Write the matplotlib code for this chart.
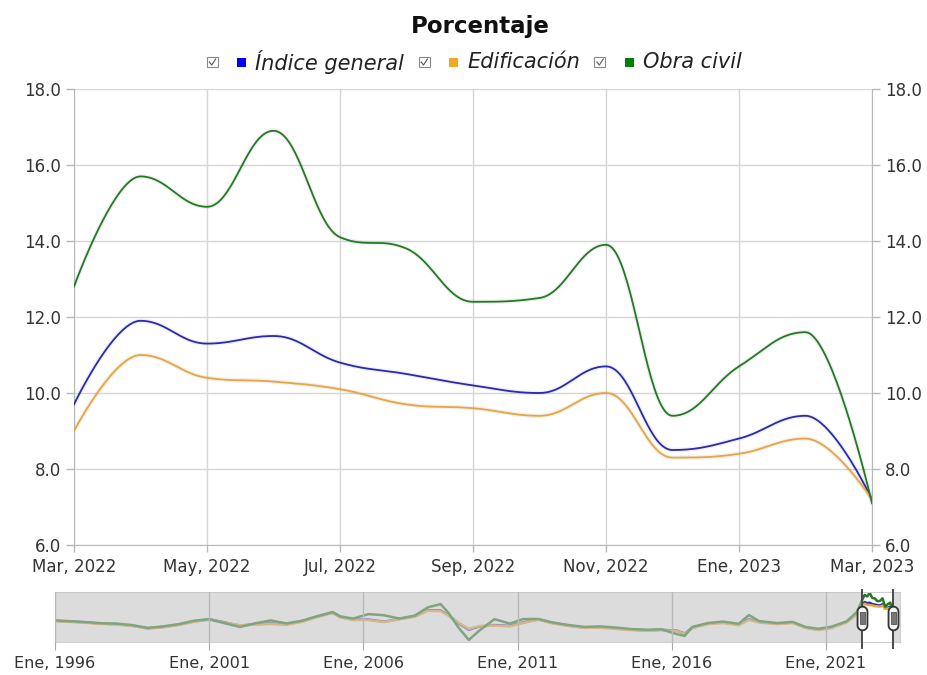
import matplotlib
matplotlib.use("Agg")
import matplotlib.pyplot as plt
import numpy as np
from matplotlib.offsetbox import HPacker, TextArea, DrawingArea, AnchoredOffsetbox
from matplotlib.patches import Rectangle
from matplotlib.lines import Line2D
from matplotlib.path import Path

MESES = ["Ene", "Feb", "Mar", "Abr", "May", "Jun", "Jul", "Ago", "Sep", "Oct", "Nov", "Dic"]

# main window: monthly values, Mar 2022 - Mar 2023
meses = ["2022-03", "2022-04", "2022-05", "2022-06", "2022-07", "2022-08", "2022-09",
         "2022-10", "2022-11", "2022-12", "2023-01", "2023-02", "2023-03"]
indice_general = [9.7, 11.9, 11.3, 11.5, 10.8, 10.5, 10.2, 10.0, 10.7, 8.5, 8.8, 9.4, 7.2]
edificacion = [9.0, 11.0, 10.4, 10.3, 10.1, 9.7, 9.6, 9.4, 10.0, 8.3, 8.4, 8.8, 7.2]
obra_civil = [12.8, 15.7, 14.9, 16.9, 14.1, 13.8, 12.4, 12.5, 13.9, 9.4, 10.7, 11.6, 7.1]

# navigator history (read roughly off the small overview strip)
nav_fechas = ["1996-01", "1996-07", "1997-01", "1997-07", "1998-01", "1998-07", "1999-01", "1999-07",
              "2000-01", "2000-07", "2001-01", "2001-07", "2002-01", "2002-07", "2003-01", "2003-07",
              "2004-01", "2004-07", "2005-01", "2005-04", "2005-09", "2006-03", "2006-09", "2007-03",
              "2007-09", "2008-02", "2008-07", "2008-10", "2009-02", "2009-06", "2009-10", "2010-04",
              "2010-10", "2011-03", "2011-09", "2012-03", "2012-09", "2013-03", "2013-09", "2014-03",
              "2014-09", "2015-03", "2015-09", "2016-03", "2016-06", "2016-09", "2017-03", "2017-09",
              "2018-03", "2018-07", "2018-11", "2019-06", "2019-12", "2020-05", "2020-10", "2021-03",
              "2021-09", "2022-01"]
nav_general = [1.8, 1.4, 0.9, 0.3, 0.0, -0.8, -2.2, -1.5,
               -0.3, 1.5, 2.6, 1.0, -0.8, 0.0, 0.4, 0.0,
               1.5, 4.0, 6.2, 3.8, 2.5, 2.5, 1.3, 2.8,
               4.3, 7.5, 7.4, 5.0, 0.5, -3.0, -1.3, -0.5,
               -0.9, 0.9, 2.6, 0.5, -0.8, -1.8, -1.6, -2.2,
               -2.9, -3.4, -3.0, -3.5, -5.0, -1.8, 0.3, 0.9,
               -0.3, 2.7, 1.2, 0.3, 0.9, -1.8, -2.9, -1.8,
               1.2, 5.6]
nav_edificacion = [1.6, 1.2, 0.7, 0.2, -0.2, -1.0, -2.4, -1.7,
                   -0.5, 1.2, 2.4, 0.8, -0.6, -0.3, 0.1, -0.4,
                   1.2, 3.8, 6.0, 3.6, 2.3, 2.2, 1.1, 2.6,
                   4.0, 7.2, 7.0, 4.6, 0.8, -2.5, -1.0, -0.8,
                   -1.2, 0.6, 2.4, 0.3, -1.0, -2.0, -1.9, -2.5,
                   -3.2, -3.6, -3.3, -3.8, -5.2, -2.2, 0.0, 0.6,
                   -0.6, 2.3, 0.9, 0.0, 0.6, -2.0, -3.2, -2.2,
                   0.9, 5.2]
nav_obra_civil = [2.0, 1.6, 1.1, 0.5, 0.3, -0.5, -2.0, -1.2,
                  0.0, 1.8, 2.7, 0.5, -1.5, 0.5, 2.0, 0.4,
                  1.8, 4.3, 6.5, 4.2, 3.0, 5.4, 4.8, 3.0,
                  4.6, 9.0, 10.8, 6.3, -1.8, -8.5, -3.6, 2.7,
                  0.3, 2.7, 2.8, 0.8, -0.5, -1.5, -1.2, -1.8,
                  -2.6, -3.0, -2.8, -5.4, -6.3, -1.5, 0.6, 1.4,
                  0.2, 4.9, 1.6, 0.6, 1.2, -1.5, -2.5, -1.4,
                  1.5, 6.5]


def to_year(s):
    y, m = s.split("-")
    return int(y) + (int(m) - 1) / 12


def spline(x, y, n=40):
    # Highcharts-style spline (smoothing 1.5, clamped at extremes)
    x = np.asarray(x, float)
    y = np.asarray(y, float)
    k, d = 1.5, 2.5
    lx, ly, rx, ry = x.copy(), y.copy(), x.copy(), y.copy()
    for i in range(1, len(x) - 1):
        lcx = (k * x[i] + x[i - 1]) / d
        lcy = (k * y[i] + y[i - 1]) / d
        rcx = (k * x[i] + x[i + 1]) / d
        rcy = (k * y[i] + y[i + 1]) / d
        corr = (rcy - lcy) * (rcx - x[i]) / (rcx - lcx) + y[i] - rcy
        lcy += corr
        rcy += corr
        if lcy > y[i - 1] and lcy > y[i]:
            lcy = max(y[i - 1], y[i]); rcy = 2 * y[i] - lcy
        elif lcy < y[i - 1] and lcy < y[i]:
            lcy = min(y[i - 1], y[i]); rcy = 2 * y[i] - lcy
        if rcy > y[i + 1] and rcy > y[i]:
            rcy = max(y[i + 1], y[i]); lcy = 2 * y[i] - rcy
        elif rcy < y[i + 1] and rcy < y[i]:
            rcy = min(y[i + 1], y[i]); lcy = 2 * y[i] - rcy
        lx[i], ly[i], rx[i], ry[i] = lcx, lcy, rcx, rcy
    t = np.linspace(0, 1, n)
    xs, ys = [x[0]], [y[0]]
    for i in range(1, len(x)):
        b0, b1, b2, b3 = (1 - t) ** 3, 3 * (1 - t) ** 2 * t, 3 * (1 - t) * t ** 2, t ** 3
        xs.extend((b0 * x[i - 1] + b1 * rx[i - 1] + b2 * lx[i] + b3 * x[i])[1:])
        ys.extend((b0 * y[i - 1] + b1 * ry[i - 1] + b2 * ly[i] + b3 * y[i])[1:])
    return np.array(xs), np.array(ys)


series = [
    ("Índice general", indice_general, nav_general, "#2a2ab0", "#0000ff"),
    ("Edificación", edificacion, nav_edificacion, "#eaa53c", "#f5a623"),
    ("Obra civil", obra_civil, nav_obra_civil, "#237a23", "#008000"),
]

fig = plt.figure(figsize=(9.28, 6.75), dpi=100)
W, H = 928, 675
PT = 72 / 100  # pixels -> points for offsetbox sizes

# ---- main chart
ax = fig.add_axes([74 / W, 1 - 545 / H, (872 - 74) / W, (545 - 89) / H])
x = np.arange(len(meses))
for name, vals, _, col, _ in series:
    xs, ys = spline(x, vals)
    ax.plot(xs, ys, color="#000000", lw=3.2, alpha=0.06, zorder=2, solid_capstyle="round")
    ax.plot(xs, ys, color=col, lw=1.3, zorder=3)

ax.set_xlim(0, len(meses) - 1)
ax.set_ylim(6, 18)
yt = np.arange(6, 18.1, 2)
ax.set_yticks(yt, [f"{v:.1f}" for v in yt])
xt = x[::2]
ax.set_xticks(xt, [f"{MESES[int(meses[i][5:]) - 1]}, {meses[i][:4]}" for i in xt])
ax.grid(color="#d6d6d6", lw=1)
ax.tick_params(labelsize=12, labelcolor="#333333", color="#b8b8b8", length=6, width=1)
ax.tick_params(axis="x", length=5, pad=4)
for s in ["left", "right", "bottom"]:
    ax.spines[s].set_color("#b8b8b8")
ax.spines["top"].set_visible(False)

ax2 = ax.twinx()
ax2.set_ylim(6, 18)
ax2.set_yticks(yt, [f"{v:.1f}" for v in yt])
ax2.tick_params(labelsize=12, labelcolor="#333333", color="#b8b8b8", length=6, width=1)
for s in ax2.spines.values():
    s.set_visible(False)

# ---- title and legend
fig.text(480 / W, 1 - 33 / H, "Porcentaje", ha="center", va="baseline", fontsize=16.5,
         fontweight="bold", color="#111111")


def checkbox():
    b = 12 * PT
    da = DrawingArea(b, b, 0, 0)
    da.add_artist(Rectangle((0.4, 0.4), b - 0.8, b - 0.8, facecolor="white",
                            edgecolor="#8a8a8a", lw=0.8))
    da.add_artist(Line2D([0.25 * b, 0.45 * b, 0.78 * b], [0.5 * b, 0.25 * b, 0.75 * b],
                         color="#555555", lw=0.8))
    return da


items = []
for name, _, _, _, lcol in series:
    s = 9 * PT
    sq = DrawingArea(s, s, 0, 0)
    sq.add_artist(Rectangle((0, 0), s, s, facecolor=lcol, edgecolor="none"))
    lab = TextArea(name, textprops=dict(fontsize=15, style="italic", color="#222222"))
    inner = HPacker(children=[sq, lab], align="center", pad=0, sep=9 * PT)
    items.append(HPacker(children=[checkbox(), inner], align="center", pad=0, sep=19 * PT))
leg = HPacker(children=items, align="center", pad=0, sep=14 * PT)
fig.add_artist(AnchoredOffsetbox(loc="center", child=leg, frameon=False,
                                 bbox_to_anchor=(474 / W, 1 - 62 / H),
                                 bbox_transform=fig.transFigure, pad=0, borderpad=0))

# ---- navigator
nav = fig.add_axes([55 / W, 1 - 642 / H, (900 - 55) / W, 50 / H])
nx = np.array([to_year(f) for f in nav_fechas + meses])
for name, vals, hist, col, _ in series:
    nav.plot(nx, hist + vals, color=col, lw=1.8, zorder=2)

x0, x1 = 1996.0, 1996.0 + (900 - 55) / 30.84
w0, w1 = to_year(meses[0]), to_year(meses[-1])
nav.set_xlim(x0, x1)
nav.set_ylim(-9.6, 17.3)
nav.axvspan(x0, w0, color="#c4c4c4", alpha=0.58, lw=0, zorder=3)
nav.axvspan(w1, x1, color="#c4c4c4", alpha=0.58, lw=0, zorder=3)
nt = [1996, 2001, 2006, 2011, 2016, 2021]
nav.set_xticks(nt, [f"Ene, {v}" for v in nt])
nav.set_yticks([])
nav.grid(axis="x", color="#a8a8a8", lw=1, zorder=4)
nav.set_axisbelow(False)
nav.tick_params(axis="x", labelsize=11.5, labelcolor="#333333", color="#a8a8a8", length=6, pad=4)
for s in nav.spines.values():
    s.set_color("#cfcfcf")

# window handles
for wx in (w0, w1):
    nav.axvline(wx, ymin=-0.12, ymax=1.04, color="#4a4a4a", lw=1.4, clip_on=False, zorder=5)
th = np.linspace(0, np.pi, 20)
pill = np.concatenate([np.c_[0.42 * np.cos(th), 0.58 + 0.42 * np.sin(th)],
                       np.c_[0.42 * np.cos(th + np.pi), -0.58 + 0.42 * np.sin(th + np.pi)]])
pill_marker = Path(np.vstack([pill, pill[:1]]), closed=True)
bar_marker = Path([(-0.2, -0.5), (0.2, -0.5), (0.2, 0.5), (-0.2, 0.5), (-0.2, -0.5)], closed=True)
nav.plot([w0, w1], [3.5, 3.5], ls="none", marker=pill_marker, markersize=17,
         markerfacecolor="#f4f4f4", markeredgecolor="#333333", markeredgewidth=1.3,
         clip_on=False, zorder=6)
nav.plot([w0, w1], [3.5, 3.5], ls="none", marker=bar_marker, markersize=9,
         markerfacecolor="#777777", markeredgecolor="#555555", markeredgewidth=0.6,
         clip_on=False, zorder=7)

fig.savefig("out.png", dpi=100)
